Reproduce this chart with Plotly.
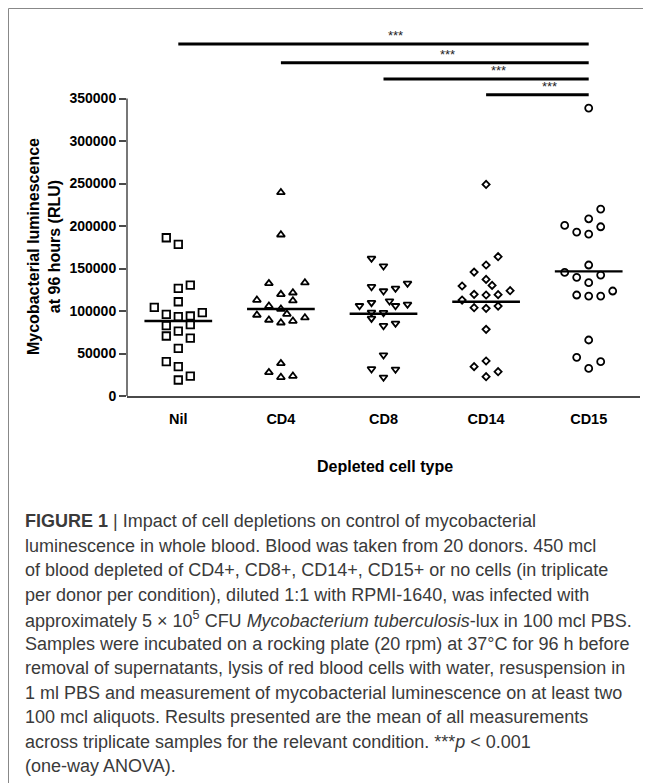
import plotly.graph_objects as go

# ---------------- data ----------------
categories = ["Nil", "CD4", "CD8", "CD14", "CD15"]

nil_values = [186200, 178400, 126600, 130500, 110900, 104300, 96000, 93300, 94100, 98000,
              82700, 83900, 76400, 70600, 68200, 56100, 40400, 34500, 23500, 18800]
cd4_values = [239500, 189700, 132500, 133300, 119600, 121500, 112900, 112100, 105800, 102300,
              95300, 96400, 89400, 88200, 92100, 86200, 38400, 27800, 22000, 23500]
cd8_values = [161900, 152900, 128600, 123500, 126600, 132500, 106200, 109800, 111700, 106200,
              107800, 98400, 98000, 91300, 82700, 85500, 48200, 31800, 31400, 22000]
cd14_values = [248900, 163900, 154100, 145800, 137200, 130100, 129400, 123900, 119600, 118800,
               119200, 112900, 103900, 103100, 105800, 78400, 34500, 41200, 22700, 28600]
cd15_values = [338700, 219900, 208500, 199100, 200700, 192900, 190500, 154100, 145400, 142300,
               139600, 133300, 123500, 118800, 117600, 117600, 65900, 45500, 40400, 32500]

# horizontal scatter slot of each point (column index inside the group)
nil_slots = [-1, 0, 0, 1, 0, -2, -1, 0, 1, 2, -1, 1, 0, -1, 1, 0, -1, 0, 1, 0]
cd4_slots = [0, 0, -1, 2, 0, 1, -2, 1, -1, 0, -2, 0.5, -1, 1, 2, 0, 0, -1, 0, 1]
cd8_slots = [-1, 0, -1, 0, 1, 2, -2, -1, 0.5, 1, 2, -1, 0, -1, 0, 1, 0, -1, 1, 0]
cd14_slots = [0, 1, 0, -1, 0, 0.5, -2, 2, -1, 0, 1, -2, -1, 0, 1, 0, -1, 0, 0, 1]
cd15_slots = [0, 1, 0, 1, -2, -1, 0, 0, -2, 1, -1, 0, 2, -1, 0, 1, 0, -1, 1, 0]

center_lines = [88200, 102300, 96800, 110900, 146600]

y_tick_values = [0, 50000, 100000, 150000, 200000, 250000, 300000, 350000]

# significance comparisons: (from group index, to group index, label)
sig_pairs = [(0, 4, "***"), (1, 4, "***"), (2, 4, "***"), (3, 4, "***")]
sig_levels = [414000, 392000, 373000, 354500]

caption_lines = [
    "<b>FIGURE 1</b> | Impact of cell depletions on control of mycobacterial",
    "luminescence in whole blood. Blood was taken from 20 donors. 450 mcl",
    "of blood depleted of CD4+, CD8+, CD14+, CD15+ or no cells (in triplicate",
    "per donor per condition), diluted 1:1 with RPMI-1640, was infected with",
    "approximately 5 × 10<sup>5</sup> CFU <i>Mycobacterium tuberculosis</i>-lux in 100 mcl PBS.",
    "Samples were incubated on a rocking plate (20 rpm) at 37°C for 96 h before",
    "removal of supernatants, lysis of red blood cells with water, resuspension in",
    "1 ml PBS and measurement of mycobacterial luminescence on at least two",
    "100 mcl aliquots. Results presented are the mean of all measurements",
    "across triplicate samples for the relevant condition. ***<i>p</i> &lt; 0.001",
    "(one-way ANOVA).",
]

# ---------------- layout constants ----------------
OFF = 8                       # page body margin of the html page
W, H = 651 - OFF, 783 - OFF
PL, PR, PT, PB = 127 - OFF, 640 - OFF, 22 - OFF, 396 - OFF   # plot area (figure px)
Y_MAX = 440000
JIT = 0.117
HALF = 0.33


def px_x(page_x):
    return (page_x - OFF - PL) / (PR - PL)


def px_y(page_y):
    return (PB - (page_y - OFF)) / (PB - PT)


series = [
    (nil_values, nil_slots, "square-open", 7.5),
    (cd4_values, cd4_slots, "triangle-up-open", 7),
    (cd8_values, cd8_slots, "triangle-down-open", 7),
    (cd14_values, cd14_slots, "diamond-open", 5.5),
    (cd15_values, cd15_slots, "circle-open", 7),
]

fig = go.Figure()
for i, (vals, slots, sym, sz) in enumerate(series):
    xs = [i + s * JIT for s in slots]
    fig.add_trace(go.Scatter(
        x=xs, y=vals, mode="markers", name=categories[i],
        marker=dict(symbol=sym, size=sz, color="black",
                    line=dict(color="black", width=1.8)),
        showlegend=False, hoverinfo="skip"))
    fig.add_trace(go.Scatter(
        x=[i - HALF, i + HALF], y=[center_lines[i]] * 2, mode="lines",
        line=dict(color="black", width=2.4), showlegend=False, hoverinfo="skip"))

shapes = []
# y axis line (only up to 350000)
shapes.append(dict(type="line", xref="paper", yref="y", x0=0, x1=0,
                   y0=0, y1=y_tick_values[-1], line=dict(color="#4a4a4a", width=1.5)))
# significance bars
annotations = []
for (a, b, lab), lvl in zip(sig_pairs, sig_levels):
    shapes.append(dict(type="line", xref="x", yref="y", x0=a, x1=b, y0=lvl, y1=lvl,
                       line=dict(color="black", width=3)))
    annotations.append(dict(x=(a + b) / 2 + 0.12, y=lvl, xref="x", yref="y",
                            text=lab, showarrow=False, yanchor="bottom", yshift=-1,
                            font=dict(family="Liberation Sans", size=13, color="#222")))
# frame (top and left edges)
fx0 = (0.5 - PL) / (PR - PL)
fy0 = (PB - 0.5) / (PB - PT)
shapes.append(dict(type="line", xref="paper", yref="paper", x0=fx0, x1=(W - PL) / (PR - PL),
                   y0=fy0, y1=fy0, line=dict(color="#888", width=1)))
shapes.append(dict(type="line", xref="paper", yref="paper", x0=fx0, x1=fx0,
                   y0=fy0, y1=(PB - H) / (PB - PT), line=dict(color="#888", width=1)))

# axis titles
annotations.append(dict(x=px_x(44), y=px_y(247), xref="paper", yref="paper",
                        text="Mycobacterial luminescence<br>at 96 hours (RLU)",
                        textangle=-90, showarrow=False, xanchor="center", yanchor="middle",
                        font=dict(family="Liberation Sans", size=16, color="black", weight="bold")))
annotations.append(dict(x=px_x(385), y=px_y(466), xref="paper", yref="paper",
                        text="Depleted cell type", showarrow=False,
                        xanchor="center", yanchor="middle",
                        font=dict(family="Liberation Sans", size=16, color="black", weight="bold")))

# caption
for k, line in enumerate(caption_lines):
    annotations.append(dict(x=px_x(23), y=px_y(521 + 24.5 * k), xref="paper", yref="paper",
                            text=line, showarrow=False, xanchor="left", yanchor="middle",
                            align="left",
                            font=dict(family="Liberation Sans", size=18, color="#3a3a3a")))

fig.update_layout(
    width=W, height=H,
    margin=dict(l=PL, r=W - PR, t=PT, b=H - PB, autoexpand=False),
    paper_bgcolor="white", plot_bgcolor="white",
    shapes=shapes, annotations=annotations,
    xaxis=dict(range=[-0.5, 4.5], tickvals=list(range(len(categories))),
               ticktext=categories, showgrid=False, zeroline=False,
               showline=True, linecolor="#4a4a4a", linewidth=1.5, ticks="",
               ticklabelstandoff=9,
               tickfont=dict(family="Liberation Sans", size=14.5, color="black", weight="bold")),
    yaxis=dict(range=[0, Y_MAX], tickvals=y_tick_values,
               ticktext=[str(v) for v in y_tick_values],
               showgrid=False, zeroline=False, showline=False,
               ticks="outside", ticklen=7, tickwidth=1.5, tickcolor="#4a4a4a",
               tickfont=dict(family="Liberation Sans", size=14, color="black", weight="bold")),
)

fig.write_html("out.html")
